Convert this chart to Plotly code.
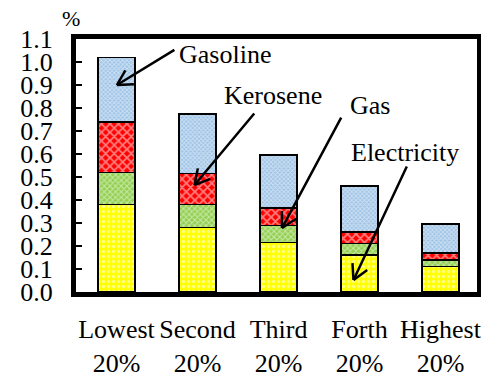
import math
import plotly.graph_objects as go

# Income quintiles and energy-expenditure shares (%)
groups = ["Lowest<br>20%", "Second<br>20%", "Third<br>20%", "Forth<br>20%", "Highest<br>20%"]
electricity = [0.38, 0.28, 0.215, 0.16, 0.11]
gas = [0.14, 0.10, 0.075, 0.05, 0.03]
kerosene = [0.22, 0.135, 0.075, 0.05, 0.03]
gasoline = [0.28, 0.26, 0.23, 0.20, 0.125]

y_ticks = [round(0.1 * i, 1) for i in range(12)]

# Callout labels: (text, tip category position, tip value, tail offset px, label left px, label mid px)
callouts = [
    ("Gasoline", 0.005, 0.90, 59, -36, 177, 55),
    ("Kerosene", 0.963, 0.465, 61, -73, 222, 95),
    ("Gas", 2.043, 0.278, 60, -112, 348, 105),
    ("Electricity", 2.926, 0.052, 54, -115, 349, 152),
]

W, H = 481, 376
M = dict(l=76, r=0, t=39, b=84)
PW = W - M["l"] - M["r"]
PH = H - M["t"] - M["b"]
YMAX = 1.1
FONT = "Liberation Serif"
FS = 26

series = [
    ("Electricity", electricity, "#FFFF00", ".", 5, 0.35),
    ("Gas", gas, "#92D050", "x", 4, 0.45),
    ("Kerosene", kerosene, "#FF0000", "x", 6, 0.5),
    ("Gasoline", gasoline, "#9DC3E6", "x", 3, 0.5),
]

fig = go.Figure()
for name, vals, col, shp, sz, sol in series:
    fig.add_trace(go.Bar(
        x=groups, y=vals, name=name,
        marker=dict(
            color=col,
            line=dict(color="black", width=1.5),
            pattern=dict(shape=shp, fgcolor="white", bgcolor=col, size=sz, solidity=sol),
        ),
    ))


def to_px(cx, v):
    return M["l"] + (cx + 0.5) / 5 * PW, M["t"] + (YMAX - v) / YMAX * PH


def to_paper(px, py):
    return (px - M["l"]) / PW, 1 - (py - M["t"]) / PH


annotations = []
shapes = []
for text, cx, v, ax, ay, lx, ly in callouts:
    tx, ty = to_px(cx, v)
    annotations.append(dict(x=cx, y=v, xref="x", yref="y", ax=ax, ay=ay, text="",
                            showarrow=True, arrowhead=0, arrowwidth=2.5, arrowcolor="black"))
    # open V arrowhead
    L = (ax * ax + ay * ay) ** 0.5
    ux, uy = ax / L, ay / L
    hl = 17
    for ang in (0.5, -0.5):
        c, s = math.cos(ang), math.sin(ang)
        hx = tx + hl * (ux * c - uy * s)
        hy = ty + hl * (ux * s + uy * c)
        x0, y0 = to_paper(tx, ty)
        x1, y1 = to_paper(hx, hy)
        shapes.append(dict(type="line", xref="paper", yref="paper", x0=x0, y0=y0, x1=x1, y1=y1,
                           line=dict(color="black", width=2.5)))
    px_, py_ = to_paper(lx, ly)
    annotations.append(dict(x=px_, y=py_, xref="paper", yref="paper", text=text, showarrow=False,
                            xanchor="left", yanchor="middle", font=dict(family=FONT, size=FS)))

ux_, uy_ = to_paper(71, 18)
annotations.append(dict(x=ux_, y=uy_, xref="paper", yref="paper", text="%", showarrow=False,
                        xanchor="center", yanchor="middle", font=dict(family=FONT, size=22)))

# right edge of the plot frame
fx0, fy0 = to_paper(479, 296)
fx1, fy1 = to_paper(479, 35)
shapes.append(dict(type="line", xref="paper", yref="paper", x0=fx0, y0=fy0, x1=fx1, y1=fy1,
                   line=dict(color="black", width=4)))

fig.update_layout(
    width=W, height=H, margin=dict(M, autoexpand=False),
    barmode="stack", bargap=0.54,
    showlegend=False,
    paper_bgcolor="white", plot_bgcolor="white",
    font=dict(family=FONT, size=FS, color="black"),
    annotations=annotations, shapes=shapes,
)
fig.update_xaxes(showline=True, linewidth=5, linecolor="black", mirror=True, automargin=False,
                 ticks="", ticklabelstandoff=10, tickfont=dict(family=FONT, size=FS))
fig.update_yaxes(range=[0, YMAX], tickvals=y_ticks, ticktext=[f"{t:.1f}" for t in y_ticks],
                 showline=True, linewidth=5, linecolor="black", mirror=True, automargin=False,
                 ticks="inside", ticklen=6, tickwidth=1.5, tickcolor="black",
                 showgrid=False, zeroline=False, ticklabelstandoff=13,
                 tickfont=dict(family=FONT, size=FS))

fig.write_html("out.html")
